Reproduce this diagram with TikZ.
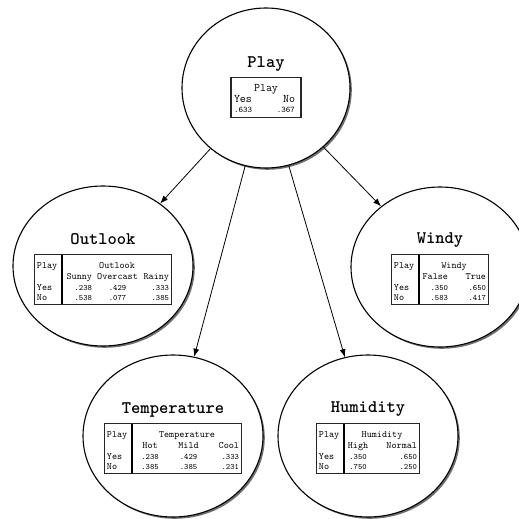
\documentclass[tikz,border=0pt]{standalone}
\usepackage{fontspec}
\usepackage{array}
\usetikzlibrary{shapes.geometric,shadows,arrows.meta,positioning}
\newcommand{\pv}[1]{{\fontsize{8.2}{10.9}\selectfont #1}}
\newcommand{\pvp}[1]{{\fontsize{8.6}{10.3}\selectfont #1}}
\setlength{\arrayrulewidth}{1.1pt}
\setlength{\tabcolsep}{2.5pt}
\tikzset{
  var/.style={ellipse,draw=black,line width=1.1pt,fill=white,inner sep=0pt,
    drop shadow={shadow xshift=1.8pt,shadow yshift=-1.8pt,opacity=.8,fill=black!70}},
  ttl/.style={anchor=base,inner sep=0pt,font=\ttfamily\bfseries\fontsize{17.7}{18}\selectfont},
  cpt/.style={draw=black!85,line width=1.1pt,inner sep=0pt,font=\ttfamily\fontsize{9.7}{10.9}\selectfont},
  cptp/.style={cpt,font=\ttfamily\fontsize{11.6}{10.3}\selectfont},
  % edges from the class node to each attribute
  dep/.style={-{Latex[length=8pt,width=6pt]},line width=0.8pt,black},
}

\begin{document}
\begin{tikzpicture}[x=1pt,y=-1pt]
  \useasboundingbox (0,0) rectangle (519,519);
  \node[var,minimum width=168pt,minimum height=160pt] (play) at (266,88){};
  \node[var,minimum width=180pt,minimum height=160pt] (outlook) at (103,266){};
  \node[var,minimum width=178pt,minimum height=160pt] (windy) at (440,267){};
  \node[var,minimum width=180pt,minimum height=162pt] (temp) at (173,436){};
  \node[var,minimum width=180pt,minimum height=162pt] (humid) at (368,436){};
  \draw[dep] (play) -- (outlook);
  \draw[dep] (play) -- (temp);
  \draw[dep] (play) -- (humid);
  \draw[dep] (play) -- (windy);
  % probability tables
  \node[cptp] (playTab) at ([yshift=-9.5pt]play.center){%
    \begin{tabular}{@{\hspace{3pt}}w{l}{18pt}@{\hspace{25pt}}w{r}{18pt}@{\hspace{6pt}}}
      \multicolumn{2}{c}{\rule{0pt}{14.5pt}Play}\\
      Yes & No\\
      \pvp{.633} & \pvp{.367}\rule[-5.4pt]{0pt}{5.4pt}
    \end{tabular}};
  \node[ttl] (playTtl) at ([yshift=9pt]playTab.north){Play};
  \node[cpt] (outlookTab) at ([yshift=-13.5pt]outlook.center){%
    \begin{tabular}{w{l}{22pt}|w{r}{27pt}w{c}{41pt}w{r}{26pt}}
      \rule{0pt}{13.5pt}Play & \multicolumn{3}{c}{Outlook}\\
      & Sunny & Overcast & Rainy\\
      Yes & \pv{.238} & \pv{.429} & \pv{.333}\\
      No & \pv{.538} & \pv{.077} & \pv{.385}
    \end{tabular}};
  \node[ttl] (outlookTtl) at ([yshift=10pt]outlookTab.north){Outlook};
  \node[cpt] (windyTab) at ([yshift=-12.5pt]windy.center){%
    \begin{tabular}{w{l}{22pt}|w{r}{26pt}w{r}{33pt}}
      \rule{0pt}{13.5pt}Play & \multicolumn{2}{c}{Windy}\\
      & False & True\\
      Yes & \pv{.350} & \pv{.650}\\
      No & \pv{.583} & \pv{.417}
    \end{tabular}};
  \node[ttl] (windyTtl) at ([yshift=10.5pt]windyTab.north){Windy};
  \node[cpt] (tempTab) at ([yshift=-12.5pt]temp.center){%
    \begin{tabular}{w{l}{22pt}|w{c}{30pt}w{c}{37pt}w{r}{27pt}}
      \rule{0pt}{13.5pt}Play & \multicolumn{3}{c}{Temperature}\\
      & Hot & Mild & Cool\\
      Yes & \pv{.238} & \pv{.429} & \pv{.333}\\
      No & \pv{.385} & \pv{.385} & \pv{.231}
    \end{tabular}};
  \node[ttl] (tempTtl) at ([yshift=9.5pt]tempTab.north){Temperature};
  \node[cpt] (humidTab) at ([yshift=-12.5pt]humid.center){%
    \begin{tabular}{w{l}{22pt}|w{c}{22pt}w{r}{43pt}}
      \rule{0pt}{13.5pt}Play & \multicolumn{2}{c}{Humidity}\\
      & High & Normal\\
      Yes & \pv{.350} & \pv{.650}\\
      No & \pv{.750} & \pv{.250}
    \end{tabular}};
  \node[ttl] (humidTtl) at ([yshift=10.5pt]humidTab.north){Humidity};
\end{tikzpicture}
\end{document}
